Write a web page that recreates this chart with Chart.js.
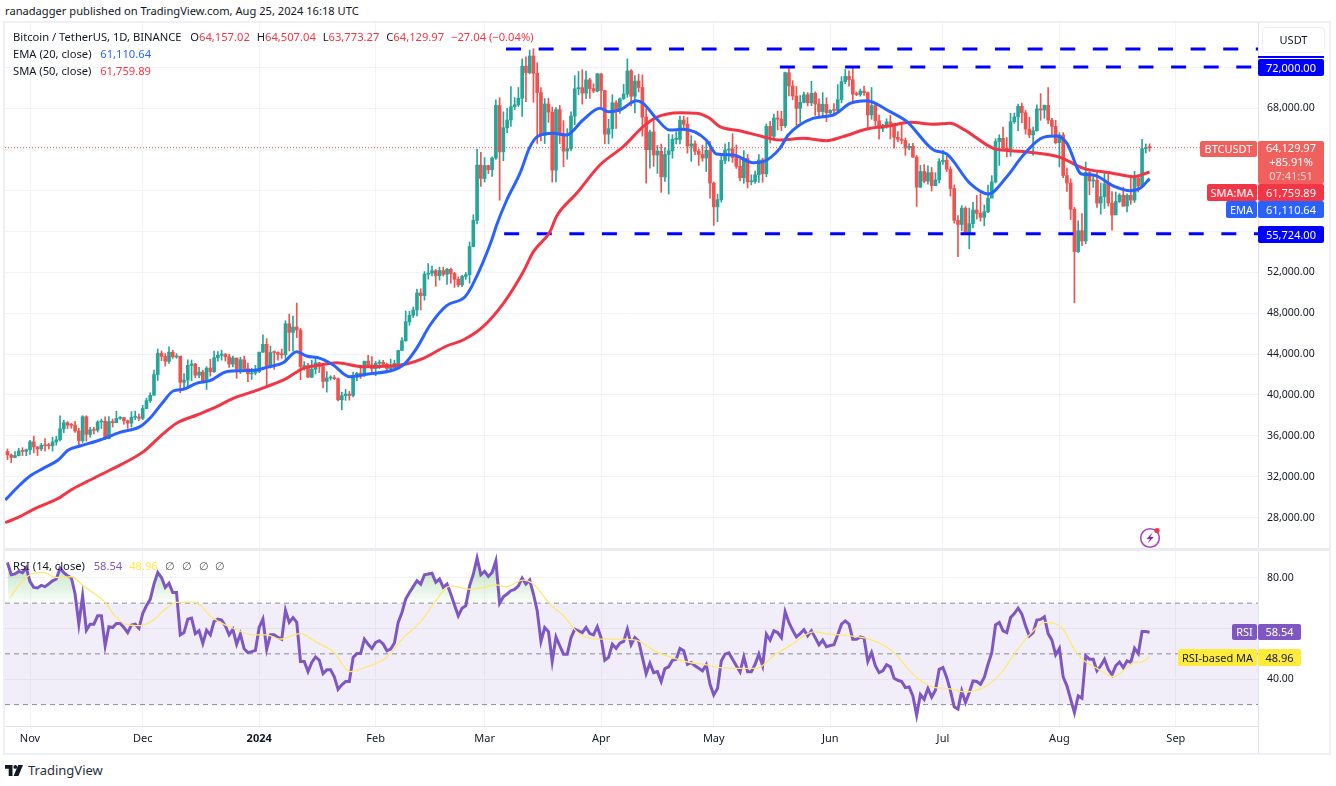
<!DOCTYPE html>
<html>
<head>
<meta charset="utf-8">
<script src="https://cdn.jsdelivr.net/npm/chart.js@4"></script>
<style>
  html, body { margin: 0; padding: 0; background: #fff; }
  body { width: 1336px; height: 786px; position: relative; overflow: hidden; font-family: "Noto Sans", sans-serif; color: #131722; }
  canvas { position: absolute; left: 5px; }
  #priceChart { top: 23px; }
  #rsiChart { top: 551px; }
  .abs { position: absolute; white-space: nowrap; line-height: 1; }
  .legend { font-size: 11.2px; left: 13px; }
  .legend span { margin-right: 4px; }
  .tag { position: absolute; color: #fff; font-size: 11px; text-align: center; border-radius: 2px; }
  .frame { position: absolute; background: #eef0f6; }
  .sep { position: absolute; background: #e2e4ea; }
</style>
</head>
<body>
<div class="frame" style="left:3px;top:21px;width:1326px;height:2px"></div>
<div class="frame" style="left:3px;top:21px;width:2px;height:734px"></div>
<div class="frame" style="left:1329px;top:21px;width:2px;height:734px"></div>
<div class="frame" style="left:3px;top:753px;width:1328px;height:2px"></div>
<div class="sep" style="left:5px;top:548px;width:1324px;height:3px;background:#e9ebf1"></div>

<div class="abs" style="left:5px;top:5px;font-size:11.15px">ranadagger published on TradingView.com, Aug 25, 2024 16:18 UTC</div>

<canvas id="priceChart" width="1324" height="525" style="width:1324px;height:525px"></canvas>
<canvas id="rsiChart" width="1324" height="202" style="width:1324px;height:202px"></canvas>
<div class="sep" style="left:1258px;top:726px;width:1px;height:27px"></div>

<div class="abs legend" style="top:31px">Bitcoin / TetherUS, 1D, BINANCE&nbsp;&nbsp;&nbsp;O<span style="color:#f23645">64,157.02</span> H<span style="color:#f23645">64,507.04</span> L<span style="color:#f23645">63,773.27</span> C<span style="color:#f23645">64,129.97</span> <span style="color:#f23645">−27.04 (−0.04%)</span></div>
<div class="abs legend" style="top:48px">EMA (20, close)&nbsp;&nbsp; <span style="color:#2962ff">61,110.64</span></div>
<div class="abs legend" style="top:65px">SMA (50, close)&nbsp;&nbsp; <span style="color:#f23645">61,759.89</span></div>
<div class="abs legend" style="top:560px">RSI (14, close)&nbsp;&nbsp; <span style="color:#7e57c2">58.54</span> <span style="color:#ffe94d">48.96</span> <span style="color:#555">∅</span> <span style="color:#555">∅</span> <span style="color:#555">∅</span> <span style="color:#555">∅</span></div>

<div class="abs" style="left:1262px;top:27px;width:61px;height:24px;border:1px solid #eceef3;border-radius:4px;font-size:11px;line-height:24px;text-align:center">USDT</div>

<div class="tag" style="left:1258px;top:56px;width:66px;height:2px;background:#0000ff;border-radius:0"></div>
<div class="tag" style="left:1258px;top:59px;width:66px;height:17px;line-height:17px;background:#0000ff">72,000.00</div>
<div class="tag" style="left:1258px;top:226px;width:66px;height:17px;line-height:17px;background:#0000ff">55,724.00</div>

<div class="tag" style="left:1200px;top:141px;width:57px;height:16px;line-height:16px;background:#f0615e">BTCUSDT</div>
<div class="tag" style="left:1258px;top:141px;width:66px;height:43px;line-height:14px;background:#f0615e;padding-top:0">64,129.97<br>+85.91%<br><span style="opacity:.7">07:41:51</span></div>
<div class="tag" style="left:1207px;top:184px;width:50px;height:17px;line-height:17px;background:#f23645">SMA:MA</div>
<div class="tag" style="left:1258px;top:184px;width:66px;height:17px;line-height:17px;background:#f23645">61,759.89</div>
<div class="tag" style="left:1226px;top:201px;width:31px;height:17px;line-height:17px;background:#2962ff">EMA</div>
<div class="tag" style="left:1258px;top:201px;width:66px;height:17px;line-height:17px;background:#2962ff">61,110.64</div>

<div class="tag" style="left:1232px;top:624px;width:25px;height:16px;line-height:16px;background:#7e57c2">RSI</div>
<div class="tag" style="left:1258px;top:624px;width:43px;height:16px;line-height:16px;background:#7e57c2">58.54</div>
<div class="tag" style="left:1178px;top:649px;width:79px;height:17px;line-height:17px;background:#ffeb3b;color:#131722">RSI-based MA</div>
<div class="tag" style="left:1258px;top:649px;width:43px;height:17px;line-height:17px;background:#ffeb3b;color:#131722">48.96</div>

<svg class="abs" style="left:1139px;top:526px" width="24" height="24" viewBox="0 0 24 24">
  <circle cx="11" cy="12" r="9.3" fill="none" stroke="#ab47bc" stroke-width="1.6"/>
  <path d="M13.5 6.5 L7.5 13 L11 13 L8.5 17.5 L14.8 11 L11.3 11 Z" fill="#8e24aa"/>
  <circle cx="18" cy="4.5" r="2.6" fill="#f23645"/>
</svg>

<svg class="abs" style="left:5px;top:765px" width="20" height="12" viewBox="0 0 20 12">
  <path d="M0 0H7.5V11H3.7V3.7H0Z" fill="#131722"/>
  <circle cx="10.3" cy="1.9" r="1.9" fill="#131722"/>
  <path d="M13.2 0H18L13.4 11H8.6Z" fill="#131722"/>
</svg>
<div class="abs" style="left:28px;top:764px;font-size:13px;color:#2a2e39">TradingView</div>

<script>
const opens = [34490,34151,33909,34089,34538,34502,
34667,35437,34938,34732,35082,35049,35047,35421,35624,36701,37297,37064,37045,36491,35548,37880,36163,36613,36568,37359,37448,35741,37414,37289,37720,37796,37479,37254,37832,37854,
37723,38682,39450,39972,41992,44080,43773,43292,44177,43713,43789,41243,41450,42890,43023,41929,42240,41365,42623,42270,43652,43869,43997,43739,43016,43613,42520,43442,42581,42066,42140,
42283,44179,44946,42845,44151,44145,43968,43929,46951,46110,46633,46339,42782,42847,41732,42511,43137,42776,41327,41659,41680,41591,39528,39935,40090,39961,41816,42120,42031,43302,42941,
42580,43082,43200,42995,42580,42658,43084,44339,45293,47147,47771,48293,49958,49699,51795,51880,52124,51642,52137,51774,52258,51849,51283,50744,51571,51733,54476,57037,62432,
61130,62387,61987,63113,68245,63724,66074,66823,68124,68313,68955,72078,71452,73072,71388,69499,65300,68393,67609,61937,67840,65501,63796,64037,67211,69880,69988,69455,70744,69892,69645,
71333,69702,65446,65980,68508,67837,68896,69360,71620,69146,70631,70006,67116,63924,65661,63419,63793,61277,63470,63818,64941,64941,66819,66414,64289,64498,63770,63461,63118,63866,
60672,58364,59060,62882,63892,64012,63165,62312,61193,63074,60799,60825,61483,62938,61577,66206,65235,67024,66915,66274,71446,70148,69166,67969,68549,69290,68507,69436,68398,67652,68352,
67540,67766,67765,68809,70567,71082,70757,69355,69310,69648,69500,67321,68243,66747,66006,66191,66639,66490,65140,64960,64828,64096,64262,63210,60277,61806,60864,61706,60427,60986,
62772,62900,62023,60145,57042,56639,58230,55857,56714,58050,57725,57339,57889,59204,60797,64724,65043,64087,63987,66660,67139,68165,67532,65936,65372,65777,67912,67813,68255,66819,66201,
64619,65357,61415,60680,58116,53991,56034,55027,61710,60880,60945,58719,59354,60609,58739,57560,58874,59491,58427,59479,59015,61156,60381,64037,64157];
const closes = [34151,33909,34089,34538,34502,34667,
35437,34938,34732,35082,35049,35047,35421,35624,36701,37297,37064,37045,36491,35548,37880,36163,36613,36568,37359,37448,35741,37414,37289,37720,37796,37479,37254,37832,37854,37723,
38682,39450,39972,41992,44080,43773,43292,44177,43713,43789,41243,41450,42890,43023,41929,42240,41365,42623,42270,43652,43869,43997,43739,43016,43613,42520,43442,42581,42066,42140,42283,
44179,44946,42845,44151,44145,43968,43929,46951,46110,46633,46339,42782,42847,41732,42511,43137,42776,41327,41659,41680,41591,39528,39935,40090,39961,41816,42120,42031,43302,42941,42580,
43082,43200,42995,42580,42658,43084,44339,45293,47147,47771,48293,49958,49699,51795,51880,52124,51642,52137,51774,52258,51849,51283,50744,51571,51733,54476,57037,62432,61130,
62387,61987,63113,68245,63724,66074,66823,68124,68313,68955,72078,71452,73072,71388,69499,65300,68393,67609,61937,67840,65501,63796,64037,67211,69880,69988,69455,70744,69892,69645,71333,
69702,65446,65980,68508,67837,68896,69360,71620,69146,70631,70006,67116,63924,65661,63419,63793,61277,63470,63818,64941,64941,66819,66414,64289,64498,63770,63461,63118,63866,60672,
58364,59060,62882,63892,64012,63165,62312,61193,63074,60799,60825,61483,62938,61577,66206,65235,67024,66915,66274,71446,70148,69166,67969,68549,69290,68507,69436,68398,67652,68352,67540,
67766,67765,68809,70567,71082,70757,69355,69310,69648,69500,67321,68243,66747,66006,66191,66639,66490,65140,64960,64828,64096,64262,63210,60277,61806,60864,61706,60427,60986,62772,
62900,62023,60145,57042,56639,58230,55857,56714,58050,57725,57339,57889,59204,60797,64724,65043,64087,63987,66660,67139,68165,67532,65936,65372,65777,67912,67813,68255,66819,66201,64619,
65357,61415,60680,58116,53991,56034,55027,61710,60880,60945,58719,59354,60609,58739,57560,58874,59491,58427,59479,59015,61156,60381,64037,64157,64130];
const highs = [34740,34245,34490,34800,34856,34720,
35580,35985,34945,35280,35760,35280,35890,35980,37972,37530,37400,37230,37420,36760,37980,37980,36850,36850,37500,37650,37860,37890,37650,38420,37900,37820,37560,38380,38430,38150,
38980,39700,40220,42420,44490,44300,44050,44700,44370,44040,43750,42100,43430,43420,43090,42700,42420,42760,43500,44280,44240,44370,44020,44000,43800,43600,43680,43800,43120,42610,42900,
44185,45880,45500,44770,44290,44220,44480,47250,47890,47700,48970,46500,43260,43080,43400,43590,43190,42930,42280,41880,41900,41680,40280,40550,40350,42230,42200,42840,43300,43880,43740,
43290,43420,43380,43120,43500,43400,44370,45610,48200,48170,48590,50330,50370,52040,52820,52570,52250,52480,52480,52370,52380,51980,51530,51680,51950,54930,57590,64000,63680,
63170,62430,63230,68790,69000,67630,67980,70080,69020,70000,72800,73000,73650,73780,72420,70000,68920,68960,68100,68030,68240,66770,65980,67620,71150,71560,71730,71600,70900,70360,71370,
71350,69700,66900,69300,68720,69000,70300,72800,71760,71170,71280,71230,67930,65840,66870,64360,64480,64120,65450,65400,65680,67200,67200,67070,65300,64800,64000,64370,64730,64730,
60780,59600,63320,64500,64650,65500,64400,63000,63840,63460,61480,61850,63450,63100,66450,66700,67400,67700,67690,71500,71980,70670,70100,69220,69560,69500,70600,69580,68900,69500,69000,
67850,68430,70280,71060,71760,71620,71990,69560,69850,70150,69560,70000,68450,67300,66400,66950,67300,65730,65700,66480,65070,64520,64550,63370,62400,62480,62360,62200,61690,63060,
63860,63280,62270,60500,57500,58480,58370,58240,58800,59470,59650,58530,60480,61400,65000,65390,66130,65120,67480,67500,68380,68480,67800,67100,66150,68300,69400,68300,70000,67000,66800,
65590,65600,62150,61100,58300,57000,57700,62730,61800,61450,61780,60680,61800,61700,59850,59800,59650,60280,59620,61400,61820,61400,64950,64490,64507];
const lows = [33700,33400,33860,34050,34080,34080,
34200,34350,34100,34580,34520,34730,34520,35110,35530,36330,36730,36750,36340,35100,35360,35500,35880,36200,36380,36730,35630,35720,36870,37500,37620,37150,36750,36880,37600,37500,
37600,38650,39280,39980,41420,43340,42820,43080,43580,43580,40220,40680,40670,41400,41680,41700,41250,40540,41830,42200,43300,43400,43310,42700,42750,41620,42100,42300,41300,41520,41960,
42180,44150,40750,42630,42500,43400,43570,43200,44300,44300,45600,41500,42430,41720,41700,42050,42200,40680,40280,41450,41500,39430,38550,39480,39500,39820,41400,41620,41800,42680,42280,
41880,42570,42880,42220,42250,42570,42780,44330,45240,46800,47560,47710,48300,49250,51300,51620,50600,51200,51600,50780,50900,50500,50550,50580,51280,50900,54450,56700,60360,
60790,61600,61320,62990,59000,62850,65600,66200,67840,68150,67190,68620,71330,68560,64550,64780,64530,66600,60770,60800,64530,62260,63000,63820,66380,69280,68380,68900,68950,69500,69560,
68060,64500,64500,65060,66000,67480,68830,69040,68210,67520,69570,65250,60660,62130,62300,61620,59770,60830,59600,63100,64500,64500,65800,63600,62790,63450,62400,62810,61800,59200,
56550,56900,58820,62560,62800,62700,62100,60880,60650,60200,60500,60630,60750,60760,61300,64600,65100,65860,65800,66100,69170,68800,66300,66600,68500,68200,68230,67280,67100,67120,66670,
67400,67260,67620,68500,70380,70120,68500,69200,69150,69220,66050,66900,66300,64970,65700,66030,64970,64080,64690,64500,63380,63920,63180,58400,60240,60700,60570,59900,60430,60680,
62500,61800,59400,56770,53500,56020,55720,54260,56300,57160,56950,56500,57800,59780,60680,62400,63900,63240,63300,66500,65800,66570,65450,65100,63400,65740,66800,67000,66480,65300,64500,
62250,61200,59850,57120,49000,53900,54560,54750,59530,60260,58300,57650,58200,58430,56080,57830,58780,58400,57850,58600,58780,59800,60350,63600,63773];

const rsiValues = [86,81.2,81.5,82.5,82,84,78.5,76.2,76,77,76.5,77.6,78.8,79.5,83.8,82,80.8,80,73.6,61.7,
72.9,59.3,61.7,61.7,65,65,53.2,60.7,60.4,62,62,60.4,58.4,61.4,61.7,60.1,65.9,69,71.5,77.5,
82.1,80.1,76.2,77.8,74.2,74.2,57.5,58.4,63.7,64.1,58,59.1,54.1,59.3,57.5,62.8,63.7,63.3,61,57.5,
59.7,53.8,57.8,52,50.5,50.9,51.4,60.4,63.7,51.8,57.5,57.5,56.5,55.8,67.2,62.4,64.3,62.4,47,47,
43,46.6,48.8,47.5,42.2,43.7,43.7,41,36,37.8,39.1,39.1,48.6,50.1,50.1,55.8,53.8,52.1,54.5,55.2,
53.9,51.2,51.9,54.3,62.4,66.3,71.6,74.2,76.5,78.8,77.5,81.2,81.5,81.8,78.2,79.5,76.2,77.5,73.6,69.2,
65,68,69,76.8,81.4,87.8,81.2,82.5,80.5,82.1,86.7,69.9,72.5,73.6,74.9,75.4,76.8,79.9,77.5,79.1,
73.6,67,54.9,60.4,58.8,47,56.7,53.2,49.9,49.9,56.4,59.7,59.1,58.4,60.4,58,57.5,60.7,56.4,47.5,
48.6,53.8,52.2,54.2,54.9,59.7,53.6,56.4,55.1,48.6,42.2,46.3,42.6,43,39.1,44.2,44.9,47.5,47.9,52.1,
51.2,45.9,46.6,45.3,44.3,43.3,45.7,38,33.8,36.4,47.2,49.9,50.4,47.9,45.3,42.9,48.8,43,43,45.9,
49.9,45.3,57.8,55.4,59.1,58.4,56.4,66.6,62.4,59.3,56.7,58,59.5,57.1,59.1,56.4,53.6,55.4,52.8,53.3,
53.6,57.5,61.7,63,61.7,55.8,55.8,56.7,56.2,47,50.5,45.3,42.6,43.3,45.7,44.9,40.4,39.6,39.1,36.7,
37,33.4,25.8,34,32.1,36.4,33,35.7,43.9,44.6,40.7,35.4,29.1,28.2,35.4,30.8,34.7,39.3,39.1,38,
40.7,45.9,50.5,61.4,62.4,59.1,58.4,64.3,65.9,68,65.7,61,57.1,58.4,63.3,63.6,64.6,58,55.4,49.6,
52.2,40.9,37.4,32.1,26.8,33.4,32.5,49.2,47.9,47.9,43.3,45.3,47.9,43.9,41.7,45.3,46.8,44.6,47.2,46.6,
52.2,50.1,58.8,58.8,58.54];

const rsiMaDays = [0.7,2.9,6,9.5,13.1,17.1,20.2,23.3,26,28.6,31.3,35.3,38.8,41.5,45,49,51.3,53.9,56.6,60.1,65.4,69,72.5,77.9,82.3,86.7,91.2,95.6,100.9,105.4,109.8,113.4,116.9,118.7,122.7,126.7,130.2,132.5,137.3,140,144.4,148,151.5,155.1,158.6,164,168,171.9,177.3,181.7,186.1,189.7,194.1,199.4,203.9,209.2,214.5,219,224.3,228.7,234.9,242,246.9,250,254.9,259.8,264.2,268.6,272.2,276.2,280.6,284.2,286.4,290,294.4,298,299.7,301.9,304];
const rsiMaValues = [72.2,76.8,81.2,82.1,80.1,80.4,76.8,73.6,70.3,65,61.7,61.1,63.3,67,70.3,70.5,69.3,65,62.4,60.1,57.5,57.5,55.8,58,54.5,50.9,43,44.9,48.6,56.4,62.4,69.6,76.2,76.8,75.5,76.2,77.2,76.4,79.1,77.5,69.6,65,58.8,56.1,55.8,55.8,55.1,51.4,48.3,46.6,45.7,44.6,44.3,44.3,49.2,54.1,58.7,57.8,57.1,56.1,51.8,40.7,36.7,36.4,35,36.7,42,51.2,57.8,62.4,60.4,51.2,47.5,44.3,41,44.6,46.6,46.8,48.96];

const emaDays = [-0.6,3.3,6,9.5,13.5,16.2,19.3,24.6,29.9,35.3,37.9,41.5,44.1,46.8,50.3,53.9,58.3,62.8,66.3,69,73.4,77,79.6,83.2,86.7,91,95.6,102.7,105.4,108.9,112.5,116.9,121.8,124,128.9,130.2,132.9,136.4,139.1,141.3,145.2,148.8,153.2,157.7,159.9,163,167.4,169.2,172.7,176.3,179.8,186,188.7,193.1,198.5,201.1,205.6,207.8,214.4,219.8,224.3,228.7,234.9,239.4,246.5,250,256.2,261.1,266,270.4,275.7,279.3,282,285.9,289,294.4,298.8,301.5,304];
const emaValues = [29757,31220,32098,32846,33659,34634,35024,35610,36358,36911,37724,39350,40390,40553,41138,41399,42277,42374,42439,42700,43155,44228,43805,43578,42927,41789,42017,42439,42927,44553,46829,48715,49594,50894,55122,56586,59024,61626,64228,65269,65528,65366,66829,67967,67642,67805,68715,68455,66992,65854,65919,64878,63512,63415,62667,62764,64065,65366,66992,67317,68455,68716,67642,66667,63903,63512,60650,59610,61301,63415,65138,65268,64553,61561,61464,60390,59935,60163,61110];
const smaDays = [-0.6,3.3,6.9,14,16.6,21.1,27.3,36.2,40.6,45,50.4,55.7,60.1,65.4,69,74.3,78.7,83.2,87.6,94.7,101.8,106.2,110.7,116.9,121.3,126.6,132,137.3,140,144.4,146.1,151.5,157.7,163.9,169.2,172.7,179,183.4,186.9,189.6,194.9,201.1,205.6,211.8,218,222.4,228.7,234.9,240.3,246.5,250.9,254.5,262.4,266.9,271.3,280.2,286.4,293.5,299.7,304];
const smaValues = [27544,28130,28846,30017,30667,31545,32683,34472,35935,37236,38049,38862,39675,40325,40813,41626,42602,42927,43155,42764,42829,43024,43577,44780,45366,46667,48943,52033,53984,55935,57398,59675,62439,64228,66179,67089,67545,67480,66992,66179,65788,65203,64878,65040,64813,65203,65951,66277,66602,66407,66504,65919,64065,63838,63707,63187,62114,61691,61301,61760];

const monthDays = [6,36,67,98,127,158,188,219,249,280,311];
const monthLabels = ['Nov','Dec','2024','Feb','Mar','Apr','May','Jun','Jul','Aug','Sep'];
const priceTicks = [28000,32000,36000,40000,44000,48000,52000,56000,60000,64000,68000,72000];
const priceLabelled = [28000,32000,36000,40000,44000,48000,52000,68000];
const rsiTicks = [80,60,40];
const rsiLabelled = [80,40];
const levelValues = [73760,72000,55724];
const levelStartDays = [132.7,205.6,132.2];
const lastPrice = 64129.97;
const lastPriceEndDay = 317.4;

const dayMin = -0.655, dayMax = 332.86;
const upColor = '#26a69a', downColor = '#ef5350';
const gridColor = '#f2f3f7', axisColor = '#e0e3eb', tickFont = { family: 'Noto Sans', size: 10.5 };

Chart.defaults.animation = false;
Chart.defaults.font.family = 'Noto Sans';

function pairs(xs, ys) {
  return xs.map((x, i) => ({ x: x, y: ys[i] }));
}

function flatLine(value, from, to) {
  return [{ x: from, y: value }, { x: to, y: value }];
}

// no extra inset from the tick labels, plot area has to sit on exact pixels
function fitY(scale) {
  scale.width = 71;
  scale.paddingTop = scale.paddingBottom = 0;
}

function fitX(height) {
  return scale => {
    scale.height = height;
    scale.paddingLeft = scale.paddingRight = 0;
  };
}

const xAxis = {
  type: 'linear',
  offset: false,
  min: dayMin,
  max: dayMax,
  afterBuildTicks: scale => { scale.ticks = monthDays.map(d => ({ value: d })); },
  grid: { color: gridColor, drawTicks: false, offset: false },
  border: { display: false }
};

const days = closes.map((c, i) => i);
const candleColors = closes.map((c, i) => (c >= opens[i] ? upColor : downColor));

new Chart(document.getElementById('priceChart'), {
  type: 'bar',
  data: {
    datasets: [
      { type: 'line', data: pairs(emaDays, emaValues), borderColor: '#2962ff', borderWidth: 3, pointRadius: 0, cubicInterpolationMode: 'monotone', order: 1 },
      { type: 'line', data: pairs(smaDays, smaValues), borderColor: '#f23645', borderWidth: 3, pointRadius: 0, cubicInterpolationMode: 'monotone', order: 2 },
      ...levelValues.map((v, i) => ({
        type: 'line', data: flatLine(v, levelStartDays[i], dayMax), borderColor: '#0000ff', borderWidth: 3,
        borderDash: [15, 17.6], pointRadius: 0, order: 3
      })),
      { type: 'line', data: flatLine(lastPrice, dayMin, lastPriceEndDay), borderColor: '#ef5350', borderWidth: 1, borderDash: [1, 2], pointRadius: 0, order: 4 },
      {
        data: days.map(d => ({ x: d, y: [opens[d], closes[d]] })),
        backgroundColor: candleColors, barThickness: 3, minBarLength: 1, grouped: false, order: 10
      },
      {
        data: days.map(d => ({ x: d, y: [lows[d], highs[d]] })),
        backgroundColor: candleColors, barThickness: 1, grouped: false, order: 11
      }
    ]
  },
  options: {
    responsive: false,
    devicePixelRatio: 1,
    layout: { padding: 0 },
    plugins: { legend: { display: false }, tooltip: { enabled: false } },
    scales: {
      x: { ...xAxis, ticks: { display: false }, afterFit: fitX(0) },
      y: {
        position: 'right',
        min: 25073,
        max: 76293,
        afterBuildTicks: scale => { scale.ticks = priceTicks.map(v => ({ value: v })); },
        afterFit: fitY,
        grid: { color: gridColor, drawTicks: false },
        border: { color: axisColor },
        ticks: {
          padding: 9,
          font: tickFont,
          color: '#131722',
          callback: v => (priceLabelled.includes(v) ? v.toLocaleString('en-US') + '.00' : '')
        }
      }
    }
  }
});

const rsiCanvas = document.getElementById('rsiChart');
const overbought = rsiCanvas.getContext('2d').createLinearGradient(0, 0, 0, 52);
overbought.addColorStop(0, 'rgba(76,175,80,0.45)');
overbought.addColorStop(1, 'rgba(76,175,80,0.03)');

const bandLine = { borderColor: '#8b8e99', borderWidth: 1, borderDash: [5, 4], pointRadius: 0 };

new Chart(rsiCanvas, {
  type: 'line',
  data: {
    datasets: [
      { data: pairs(days, rsiValues), borderColor: '#7e57c2', borderWidth: 3, pointRadius: 0, order: 1,
        fill: { target: { value: 70 }, above: overbought, below: 'rgba(0,0,0,0)' } },
      { data: pairs(rsiMaDays, rsiMaValues), borderColor: '#ffe873', borderWidth: 1.3, pointRadius: 0, cubicInterpolationMode: 'monotone', order: 0 },
      { data: flatLine(70, dayMin, dayMax), ...bandLine, fill: { value: 30 }, backgroundColor: 'rgba(126,87,194,0.1)', order: 5 },
      { data: flatLine(50, dayMin, dayMax), ...bandLine, order: 5 },
      { data: flatLine(30, dayMin, dayMax), ...bandLine, order: 5 }
    ]
  },
  options: {
    responsive: false,
    devicePixelRatio: 1,
    layout: { padding: 0 },
    plugins: { legend: { display: false }, tooltip: { enabled: false } },
    scales: {
      x: {
        ...xAxis,
        afterFit: fitX(27),
        border: { display: true, color: axisColor },
        ticks: {
          autoSkip: false,
          maxRotation: 0,
          padding: 6,
          color: '#131722',
          font: ctx => ({ family: 'Noto Sans', size: 11, weight: ctx.tick && ctx.tick.value === 67 ? 'bold' : 'normal' }),
          callback: v => monthLabels[monthDays.indexOf(v)]
        }
      },
      y: {
        position: 'right',
        min: 21.57,
        max: 90.55,
        afterBuildTicks: scale => { scale.ticks = rsiTicks.map(v => ({ value: v })); },
        afterFit: fitY,
        grid: { color: gridColor, drawTicks: false },
        border: { color: axisColor },
        ticks: {
          padding: 9,
          font: tickFont,
          color: '#131722',
          callback: v => (rsiLabelled.includes(v) ? v + '.00' : '')
        }
      }
    }
  }
});
</script>
</body>
</html>
